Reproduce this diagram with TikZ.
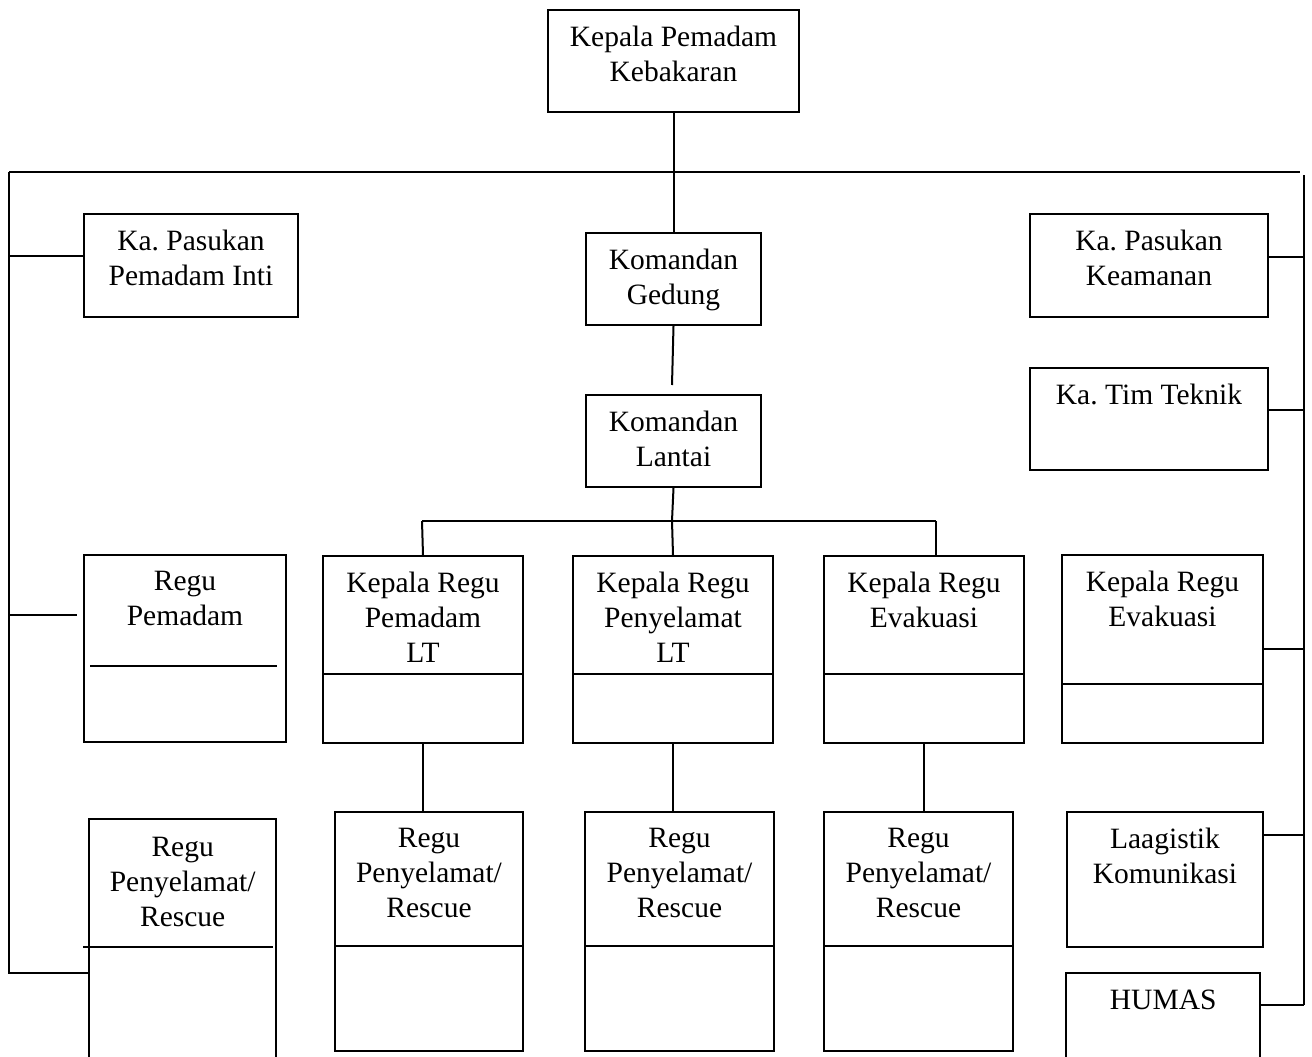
\documentclass[tikz,border=0pt]{standalone}
\usepackage{fontspec}
\setmainfont{Liberation Serif}
\frenchspacing
\begin{document}
\begin{tikzpicture}[x=1pt,y=-1pt,
  box/.style={draw,line width=2pt,inner sep=0pt,anchor=north west},
  openbox/.style={draw=none,inner sep=0pt,anchor=north west},
  lbl/.style={inner sep=0pt,anchor=north,align=center,font=\fontsize{29.5}{35}\selectfont},
  ln/.style={line width=2pt}]
\useasboundingbox (0,0) rectangle (1312,1057);
% boxes
\node[box,minimum width=251pt,minimum height=102pt] (top) at (547,9) {};
\node[box,minimum width=214pt,minimum height=103pt] (kpi) at (83,213) {};
\node[box,minimum width=175pt,minimum height=92pt] (kg) at (585,232) {};
\node[box,minimum width=175pt,minimum height=92pt] (kl) at (585,394) {};
\node[box,minimum width=200pt,minimum height=187pt] (kr1) at (322,555) {};
\node[box,minimum width=200pt,minimum height=187pt] (kr2) at (572,555) {};
\node[box,minimum width=200pt,minimum height=187pt] (kr3) at (823,555) {};
\node[box,minimum width=188pt,minimum height=239pt] (rr1) at (334,811) {};
\node[box,minimum width=189pt,minimum height=239pt] (rr2) at (584,811) {};
\node[box,minimum width=189pt,minimum height=239pt] (rr3) at (823,811) {};
\node[box,minimum width=202pt,minimum height=187pt] (rp) at (83,554) {};
\node[openbox,minimum width=187pt,minimum height=250pt] (rpl) at (89,819) {};
\node[box,minimum width=238pt,minimum height=103pt] (kpk) at (1029,213) {};
\node[box,minimum width=238pt,minimum height=102pt] (ktt) at (1029,367) {};
\node[box,minimum width=201pt,minimum height=188pt] (kre) at (1061,554) {};
\node[box,minimum width=196pt,minimum height=135pt] (lk) at (1066,811) {};
\node[openbox,minimum width=194pt,minimum height=100pt] (hum) at (1066,973) {};
% open boxes
\draw[ln] (rpl.south west) |- (rpl.north east) -- (rpl.south east);
\draw[ln] (hum.south west) |- (hum.north east) -- (hum.south east);
% dividers
\draw[ln] (kr1.west |- 0,674) -- (kr1.east |- 0,674);
\draw[ln] (kr2.west |- 0,674) -- (kr2.east |- 0,674);
\draw[ln] (kr3.west |- 0,674) -- (kr3.east |- 0,674);
\draw[ln] (rr1.west |- 0,946) -- (rr1.east |- 0,946);
\draw[ln] (rr2.west |- 0,946) -- (rr2.east |- 0,946);
\draw[ln] (rr3.west |- 0,946) -- (rr3.east |- 0,946);
\draw[ln] (90,666) -- (277,666);
\draw[ln] (83,947) -- (273,947);
\draw[ln] (kre.west |- 0,684) -- (kre.east |- 0,684);
% labels
\node[lbl] at ([yshift=-16.5pt]top.north) {Kepala Pemadam\\Kebakaran};
\node[lbl] at ([yshift=-16.5pt]kpi.north) {Ka. Pasukan\\Pemadam Inti};
\node[lbl] at ([yshift=-16.5pt]kg.north) {Komandan\\Gedung};
\node[lbl] at ([yshift=-16.5pt]kl.north) {Komandan\\Lantai};
\node[lbl] at ([yshift=-16.5pt]kr1.north) {Kepala Regu\\Pemadam\\LT};
\node[lbl] at ([yshift=-16.5pt]kr2.north) {Kepala Regu\\Penyelamat\\LT};
\node[lbl] at ([yshift=-16.5pt]kr3.north) {Kepala Regu\\Evakuasi};
\node[lbl] at ([yshift=-16.5pt]rr1.north) {Regu\\Penyelamat/\\Rescue};
\node[lbl] at ([yshift=-16.5pt]rr2.north) {Regu\\Penyelamat/\\Rescue};
\node[lbl] at ([yshift=-16.5pt]rr3.north) {Regu\\Penyelamat/\\Rescue};
\node[lbl] at ([yshift=-16.5pt]rp.north) {Regu\\Pemadam};
\node[lbl] at ([yshift=-17.5pt]rpl.north) {Regu\\Penyelamat/\\Rescue};
\node[lbl] at ([yshift=-16.5pt]kpk.north) {Ka. Pasukan\\Keamanan};
\node[lbl] at ([yshift=-16.5pt]ktt.north) {Ka. Tim Teknik};
\node[lbl] at ([yshift=-16.5pt]kre.north) {Kepala Regu\\Evakuasi};
\node[lbl] at ([yshift=-16.5pt]lk.north) {Laagistik\\Komunikasi};
\node[lbl] at ([yshift=-16.5pt]hum.north) {HUMAS};
% bus coordinates
\coordinate (busL) at (9,172);
\coordinate (busR) at (1300,172);
\coordinate (busM) at (672,172);
\coordinate (lbot) at (9,973);
\coordinate (rtop) at (1304,175);
\coordinate (rbot) at (1304,1005);
\coordinate (klgap) at (672,385);
\coordinate (rb) at (672,521);
\coordinate (rbL) at (422,521);
\coordinate (rbR) at (936,521);
% connectors
\draw[ln] (top.south) -- (kg.north);
\draw[ln] (busL) -- (busR);
\draw[ln] (busL) -- (lbot) -- (rpl.west |- lbot);
\draw[ln] (busL |- 0,256) -- (kpi.west |- 0,256);
\draw[ln] (busL |- 0,615) -- (77,615);
\draw[ln] (rtop) -- (rbot);
\draw[ln] (kpk.east |- 0,257) -- (rtop |- 0,257);
\draw[ln] (ktt.east |- 0,410) -- (rtop |- 0,410);
\draw[ln] (kre.east |- 0,649) -- (rtop |- 0,649);
\draw[ln] (lk.east |- 0,835) -- (rtop |- 0,835);
\draw[ln] (hum.east |- rbot) -- (rbot);
\draw[ln] (kg.south) -- (klgap);
\draw[ln] (kl.south) -- (rb);
\draw[ln] (rbL) -- (rbR);
\draw[ln] (rbL) -- (kr1.north);
\draw[ln] (rb) -- (kr2.north);
\draw[ln] (rbR) -- (rbR |- kr3.north);
\draw[ln] (kr1.south) -- (kr1.south |- rr1.north);
\draw[ln] (kr2.south) -- (kr2.south |- rr2.north);
\draw[ln] (kr3.south) -- (kr3.south |- rr3.north);
\end{tikzpicture}
\end{document}
